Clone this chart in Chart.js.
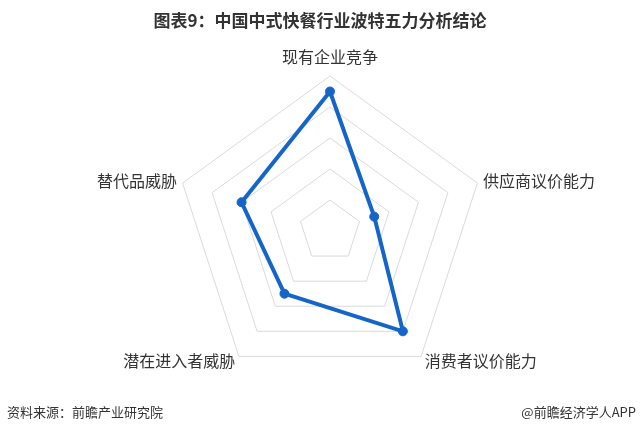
<!DOCTYPE html>
<html>
<head>
<meta charset="utf-8">
<script src="https://cdn.jsdelivr.net/npm/chart.js@4/dist/chart.umd.min.js"></script>
<style>
  html, body { margin: 0; padding: 0; background: #fff; }
  body { width: 640px; height: 433px; position: relative; overflow: hidden;
         font-family: "Noto Sans CJK SC", "Noto Sans", sans-serif; }
  #title { position: absolute; top: 10px; left: 0; width: 640px; text-align: center;
           font-size: 17px; line-height: 20px; font-weight: bold; color: #333; }
  #wrap { position: absolute; left: 0; top: 0; width: 640px; height: 433px; }
  .foot { position: absolute; top: 404px; font-size: 13px; line-height: 16px; color: #333; }
</style>
</head>
<body>
<div id="wrap"><canvas id="myChart"></canvas></div>
<div id="title">图表9：中国中式快餐行业波特五力分析结论</div>
<div class="foot" style="left:7px">资料来源：前瞻产业研究院</div>
<div class="foot" style="right:4px">@前瞻经济学人APP</div>
<script>
const labels = ["现有企业竞争", "供应商议价能力", "消费者议价能力", "潜在进入者威胁", "替代品威胁"];
const values = [4.5, 1.5, 4, 2.5, 3];
const ringMax = 5;
const lineColor = "#1565c8";

const ctx = document.getElementById("myChart");

// axis names placed beside each vertex, like the original
const axisNames = {
  id: "axisNames",
  afterDraw(chart) {
    const scale = chart.scales.r;
    const c = chart.ctx;
    c.save();
    c.font = "16px 'Noto Sans CJK SC', sans-serif";
    c.fillStyle = "#333";
    c.textBaseline = "middle";
    labels.forEach((name, i) => {
      const gap = i === 0 ? 19 : 6;
      const p = scale.getPointPosition(i, scale.drawingArea + gap);
      const dx = p.x - scale.xCenter;
      c.textAlign = Math.abs(dx) < 1 ? "center" : dx > 0 ? "left" : "right";
      c.fillText(name, p.x, p.y);
    });
    c.restore();
  },
};

new Chart(ctx, {
  type: "radar",
  data: {
    labels: labels,
    datasets: [
      {
        label: "五力",
        data: values,
        borderColor: lineColor,
        backgroundColor: "rgba(0,0,0,0)",
        borderWidth: 4,
        pointRadius: 4.5,
        pointBorderWidth: 1,
        pointBackgroundColor: lineColor,
        pointBorderColor: lineColor,
        fill: false,
      },
    ],
  },
  plugins: [axisNames],
  options: {
    responsive: true,
    maintainAspectRatio: false,
    animation: false,
    layout: { padding: { top: 76, bottom: 47, left: 175, right: 155 } },
    plugins: { legend: { display: false }, tooltip: { enabled: false } },
    scales: {
      r: {
        min: 0,
        max: ringMax,
        ticks: { display: false, stepSize: 1 },
        angleLines: { display: false },
        grid: { color: "#dadada", lineWidth: 1 },
        pointLabels: { display: false },
      },
    },
  },
});
</script>
</body>
</html>
